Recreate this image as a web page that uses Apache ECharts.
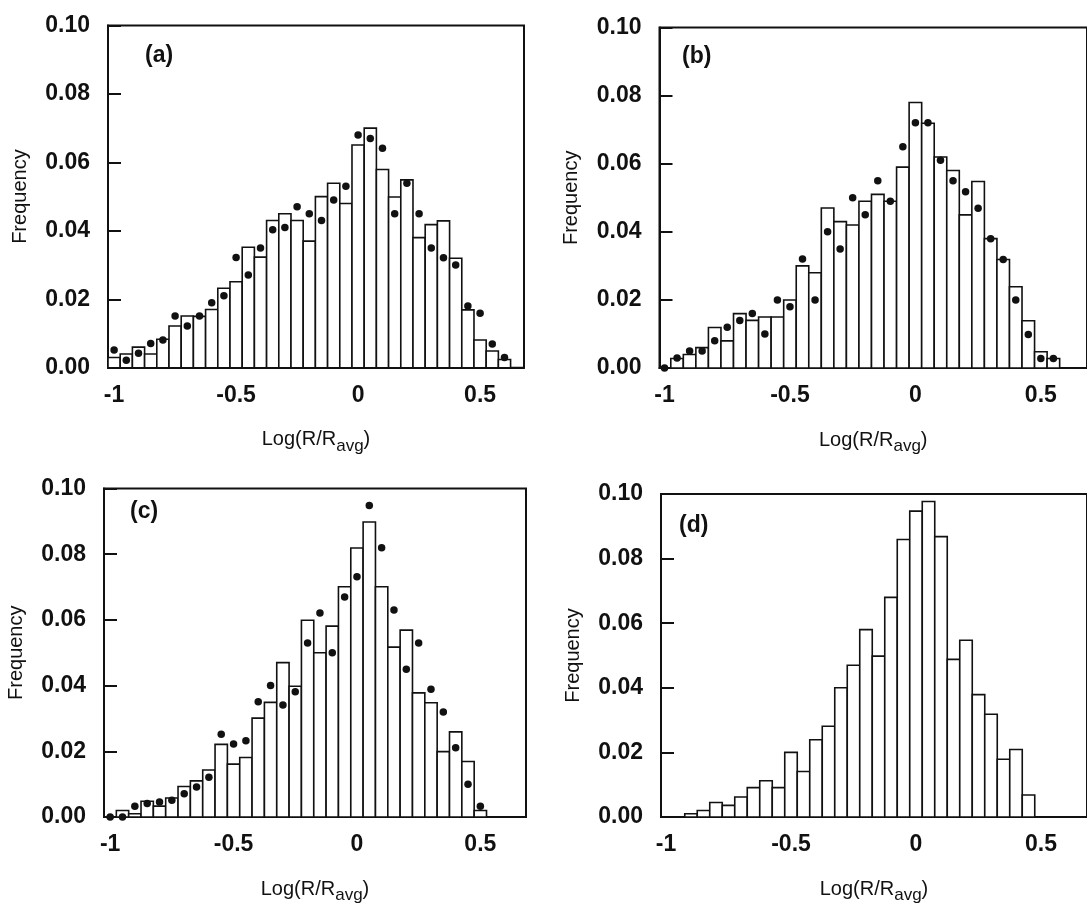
<!DOCTYPE html>
<html>
<head>
<meta charset="utf-8">
<script src="https://cdn.jsdelivr.net/npm/echarts@6/dist/echarts.min.js"></script>
<style>
html,body{margin:0;padding:0;background:#fff;}
#chart{width:1087px;height:905px;}
</style>
</head>
<body>
<div id="chart"></div>
<script>
// ---- data ----
const binCenters = [-1.00,-0.95,-0.90,-0.85,-0.80,-0.75,-0.70,-0.65,-0.60,-0.55,-0.50,-0.45,-0.40,-0.35,-0.30,-0.25,-0.20,-0.15,-0.10,-0.05,0.00,0.05,0.10,0.15,0.20,0.25,0.30,0.35,0.40,0.45,0.50,0.55,0.60];
const binWidth = 0.05;
const xTickLabels = [-1, -0.5, 0, 0.5];
const panelLabels = ['(a)', '(b)', '(c)', '(d)'];

const barsA = [0.003,0.004,0.006,0.004,0.0083,0.0122,0.0151,0.015,0.017,0.0232,0.0251,0.0352,0.0323,0.043,0.045,0.043,0.037,0.050,0.0539,0.048,0.0651,0.070,0.0579,0.0499,0.0549,0.038,0.0418,0.0429,0.032,0.0169,0.0081,0.0049,0.0024];
const dotsA = [0.0052,0.0022,0.0042,0.0071,0.0081,0.0151,0.0122,0.0151,0.019,0.021,0.0322,0.0271,0.035,0.0403,0.041,0.047,0.045,0.043,0.049,0.053,0.068,0.067,0.0641,0.045,0.0539,0.045,0.035,0.0321,0.030,0.018,0.0159,0.0069,0.003];

const barsB = [null,0.0028,0.004,0.006,0.0119,0.008,0.016,0.014,0.015,0.015,0.020,0.030,0.028,0.047,0.043,0.042,0.049,0.051,0.049,0.059,0.078,0.0719,0.062,0.058,0.045,0.0548,0.038,0.0319,0.0239,0.0139,0.0048,0.0028,null];
const dotsB = [0,0.003,0.005,0.005,0.008,0.012,0.014,0.016,0.010,0.020,0.018,0.032,0.020,0.040,0.035,0.050,0.045,0.055,0.049,0.065,0.072,0.072,0.061,0.055,0.0518,0.0469,0.038,0.0319,0.020,0.0099,0.0028,0.0028,null];

const barsC = [null,0.002,0.001,0.0048,0.0033,0.0058,0.0093,0.011,0.0143,0.0221,0.0161,0.0181,0.0301,0.0349,0.047,0.0398,0.0599,0.050,0.0581,0.0701,0.0819,0.0898,0.0701,0.0517,0.0569,0.0378,0.0348,0.0199,0.0259,0.0169,0.002,null,null];
const dotsC = [0,0,0.0033,0.0041,0.0046,0.0051,0.0071,0.0091,0.0121,0.0252,0.0222,0.0232,0.0351,0.040,0.0341,0.0381,0.053,0.0621,0.050,0.067,0.0731,0.0948,0.082,0.063,0.045,0.053,0.0389,0.032,0.0211,0.010,0.0033,null,null];

const barsD = [null,null,0.001,0.002,0.0045,0.0036,0.0062,0.0091,0.0112,0.0091,0.020,0.0141,0.0239,0.0281,0.040,0.047,0.058,0.0498,0.068,0.0859,0.0947,0.0977,0.0868,0.0488,0.0547,0.0379,0.0318,0.0179,0.0209,0.0068,null,null,null];

// ---- layout / style ----
const FONT = 'Liberation Sans, Arial, Helvetica, sans-serif';
const INK = '#111111';
const grids = [
  {left:108, top:25.5, width:416, height:342.2},
  {left:659.5, top:27.5, width:431, height:340.6},
  {left:104, top:488.5, width:422, height:336.1},
  {left:661, top:494, width:431, height:337.6}
];
const xRanges = [[-1.025,0.68],[-1.02,0.684],[-1.025,0.685],[-1.02,0.684]];
const labelPos = [[145,44],[682,45],[130,500],[679,514]];

function pairs(vals){ return binCenters.map((c,i)=>[c, vals[i]]); }

function renderBar(params, api){
  const c = api.value(0), v = api.value(1);
  if (v == null || isNaN(v) || v <= 0) return null;
  const p0 = api.coord([c - binWidth/2, 0]);
  const p1 = api.coord([c + binWidth/2, v]);
  return {
    type:'rect',
    shape:{x:p0[0], y:p1[1], width:p1[0]-p0[0], height:p0[1]-p1[1]},
    style:{fill:'#ffffff', stroke:INK, lineWidth:1.6}
  };
}

const xAxes = grids.map((g,i)=>({
  type:'value', gridIndex:i, min:xRanges[i][0], max:xRanges[i][1],
  axisLine:{show:true, onZero:false, lineStyle:{color:INK, width:2}},
  axisTick:{show:false}, splitLine:{show:false},
  axisLabel:{customValues:xTickLabels, formatter:v=>String(v), fontFamily:FONT, fontWeight:'bold', fontSize:23, color:INK, margin:16},
  name:'Log(R/R{s|avg})', nameLocation:'middle', nameGap:57,
  nameTextStyle:{fontFamily:FONT, fontSize:20, color:INK, lineHeight:30,
    rich:{s:{fontFamily:FONT, fontSize:17, color:INK, lineHeight:17, padding:[13,0,0,0]}}}
}));

const yAxes = grids.map((g,i)=>({
  type:'value', gridIndex:i, min:0, max:0.1, interval:0.02,
  axisLine:{show:true, onZero:false, lineStyle:{color:INK, width:2}},
  axisTick:{show:true, inside:true, length:13, lineStyle:{color:INK, width:2}},
  splitLine:{show:false},
  axisLabel:{formatter:v=>v.toFixed(2), fontFamily:FONT, fontWeight:'bold', fontSize:23, color:INK, margin:18},
  name:'Frequency', nameLocation:'middle', nameGap:78, nameRotate:90,
  nameTextStyle:{fontFamily:FONT, fontSize:20, color:INK}
}));

const series = [];
[barsA, barsB, barsC, barsD].forEach((b,i)=>{
  series.push({type:'custom', xAxisIndex:i, yAxisIndex:i, renderItem:renderBar, data:pairs(b), clip:false, silent:true, z:2});
});
[dotsA, dotsB, dotsC].forEach((d,i)=>{
  series.push({type:'scatter', xAxisIndex:i, yAxisIndex:i, symbol:'circle', symbolSize:7.5,
    itemStyle:{color:INK, opacity:1}, data:pairs(d).filter(p=>p[1]!=null), silent:true, z:3});
});

const option = {
  backgroundColor:'#ffffff',
  animation:false,
  title: panelLabels.map((t,i)=>({text:t, left:labelPos[i][0], top:labelPos[i][1], padding:0,
    textStyle:{fontFamily:FONT, fontWeight:'bold', fontSize:23, color:INK}})),
  grid: grids.map(g=>Object.assign({show:true, borderColor:INK, borderWidth:2, backgroundColor:'transparent', containLabel:false}, g)),
  xAxis: xAxes,
  yAxis: yAxes,
  series: series
};

const chart = echarts.init(document.getElementById('chart'), null, {renderer:'canvas'});
chart.setOption(option);
</script>
</body>
</html>
